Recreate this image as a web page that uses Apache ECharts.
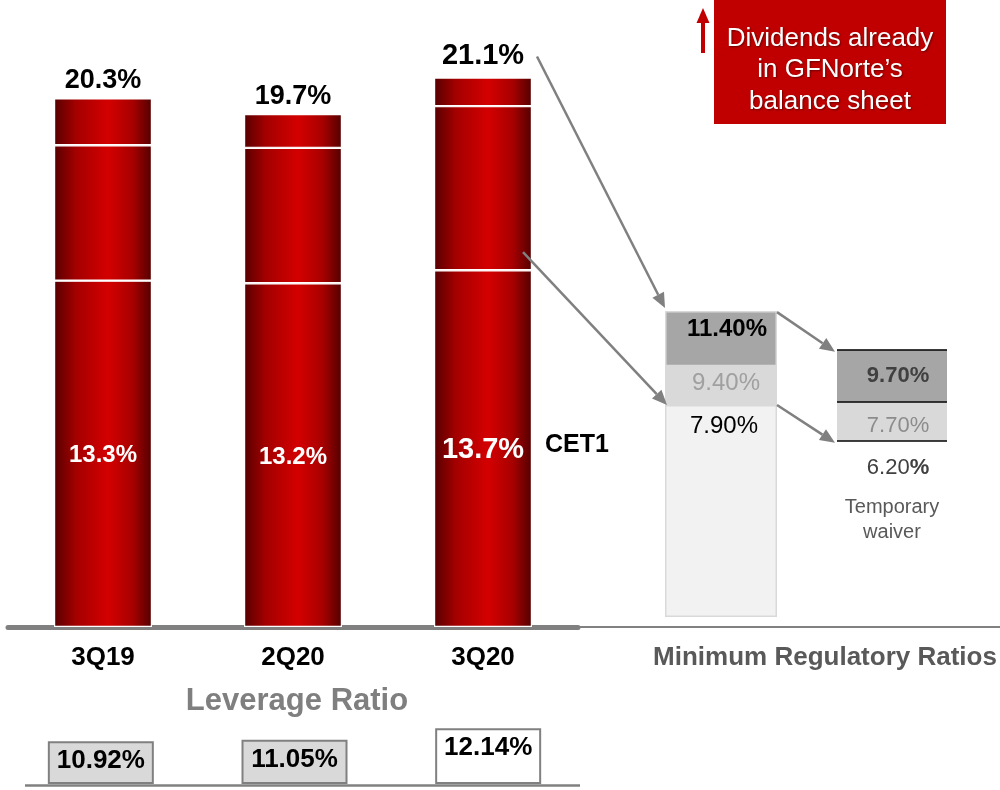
<!DOCTYPE html>
<html>
<head>
<meta charset="utf-8">
<script src="https://cdn.jsdelivr.net/npm/echarts@6/dist/echarts.min.js"></script>
<style>
  html, body { margin: 0; padding: 0; background: #ffffff; }
  #chart { width: 1000px; height: 790px; }
</style>
</head>
<body>
<div id="chart"></div>
<script>
// Capital ratios by quarter (%)
const quarters = ['3Q19', '2Q20', '3Q20'];
const cet1 = [13.3, 13.2, 13.7];
const additionalTier1 = [5.2, 5.2, 6.3];
const tier2 = [1.8, 1.3, 1.1];
const leverageRatio = [10.92, 11.05, 12.14];

// Minimum regulatory ratios (%): total capital, tier 1, CET1
const minRegulatory = [11.40, 9.40, 7.90];
const minWaiver = [9.70, 7.70, 6.20];

const totals = cet1.map((v, i) => Math.round((v + additionalTier1[i] + tier2[i]) * 10) / 10);

const FONT = "'Liberation Sans', Arial, sans-serif";
const GREY_LINE = '#808080';

const chart = echarts.init(document.getElementById('chart'), null, { renderer: 'canvas' });

// Cylinder-like shading for the capital bars
const redBody = new echarts.graphic.LinearGradient(0, 0, 1, 0, [
  { offset: 0, color: '#560000' },
  { offset: 0.22, color: '#a30000' },
  { offset: 0.55, color: '#d40000' },
  { offset: 0.8, color: '#a80000' },
  { offset: 1, color: '#520000' }
]);

const capitalStyle = { color: redBody, borderColor: '#ffffff', borderWidth: 1.2 };
const lastIdx = quarters.length - 1;

const option = {
  animation: false,
  backgroundColor: '#ffffff',
  textStyle: { fontFamily: FONT },
  grid: [
    { left: 8, width: 570, top: 2, bottom: 163 },          // capital bars
    { left: 665, width: 112, top: 295, bottom: 173 },      // minimum regulatory ratios
    { left: 837, width: 110, top: 342, bottom: 188 },      // temporary waiver
    { left: 4, width: 581, top: 708.4, bottom: 7 }         // leverage ratio
  ],
  xAxis: [
    {
      gridIndex: 0, type: 'category', data: quarters,
      axisLine: { lineStyle: { color: GREY_LINE, width: 5 } },
      axisTick: { show: false },
      axisLabel: { color: '#000000', fontSize: 26, fontWeight: 'bold', margin: 18, fontFamily: FONT }
    },
    { gridIndex: 1, type: 'category', data: ['min'], show: false },
    { gridIndex: 2, type: 'category', data: ['waiver'], show: false },
    { gridIndex: 3, type: 'category', data: quarters, show: false }
  ],
  yAxis: [
    { gridIndex: 0, type: 'value', min: 0, max: 24, show: false, splitLine: { show: false } },
    { gridIndex: 1, type: 'value', min: 0, max: 12, show: false, splitLine: { show: false } },
    { gridIndex: 2, type: 'value', min: 0, max: 10, show: false, splitLine: { show: false } },
    { gridIndex: 3, type: 'value', min: 7, max: 14, show: false, splitLine: { show: false } }
  ],
  series: [
    {
      name: 'CET1', type: 'bar', stack: 'capital', xAxisIndex: 0, yAxisIndex: 0,
      barWidth: 98, itemStyle: capitalStyle,
      label: {
        show: true, position: 'inside', offset: [0, 2], color: '#ffffff', fontWeight: 'bold', fontSize: 24,
        fontFamily: FONT, formatter: p => p.value.toFixed(1) + '%'
      },
      data: cet1.map((v, i) => i === lastIdx ? { value: v, label: { fontSize: 29, offset: [0, 1] } } : v)
    },
    {
      name: 'Additional Tier 1', type: 'bar', stack: 'capital', xAxisIndex: 0, yAxisIndex: 0,
      barWidth: 98, itemStyle: capitalStyle, data: additionalTier1
    },
    {
      name: 'Tier 2', type: 'bar', stack: 'capital', xAxisIndex: 0, yAxisIndex: 0,
      barWidth: 98, itemStyle: capitalStyle,
      label: {
        show: true, position: 'top', distance: 4, color: '#000000', fontWeight: 'bold', fontSize: 27,
        fontFamily: FONT, formatter: p => totals[p.dataIndex].toFixed(1) + '%'
      },
      data: tier2.map((v, i) => i === lastIdx ? { value: v, label: { fontSize: 29, distance: 7 } } : v)
    },

    // Minimum regulatory ratios: overlapping bars, tallest drawn first
    {
      name: 'Total capital min', type: 'bar', xAxisIndex: 1, yAxisIndex: 1, barWidth: '100%', barGap: '-100%',
      itemStyle: { color: '#a6a6a6', borderColor: '#d9d9d9', borderWidth: 1.5 },
      label: {
        show: true, position: 'insideTop', distance: 6, offset: [6, 0], color: '#000000',
        fontWeight: 'bold', fontSize: 24, fontFamily: FONT, formatter: p => p.value.toFixed(2) + '%'
      },
      data: [minRegulatory[0]]
    },
    {
      name: 'Tier 1 min', type: 'bar', xAxisIndex: 1, yAxisIndex: 1, barWidth: '100%', barGap: '-100%',
      itemStyle: { color: '#d9d9d9', borderColor: '#d9d9d9', borderWidth: 1.5 },
      label: {
        show: true, position: 'insideTop', distance: 7, offset: [5, 0], color: '#a0a0a0',
        fontSize: 24, fontFamily: FONT, formatter: p => p.value.toFixed(2) + '%'
      },
      data: [minRegulatory[1]]
    },
    {
      name: 'CET1 min', type: 'bar', xAxisIndex: 1, yAxisIndex: 1, barWidth: '100%', barGap: '-100%',
      itemStyle: { color: '#f2f2f2', borderColor: '#d9d9d9', borderWidth: 1.5 },
      label: {
        show: true, position: 'insideTop', distance: 9, offset: [3, 0], color: '#000000',
        fontSize: 24, fontFamily: FONT, formatter: p => p.value.toFixed(2) + '%'
      },
      data: [minRegulatory[2]]
    },

    // Temporary waiver
    {
      name: 'Total capital waiver', type: 'bar', xAxisIndex: 2, yAxisIndex: 2, barWidth: '100%', barGap: '-100%',
      itemStyle: { color: '#a6a6a6' },
      label: {
        show: true, position: 'insideTop', distance: 15, offset: [6, 0], color: '#404040',
        fontWeight: 'bold', fontSize: 22, fontFamily: FONT, formatter: p => p.value.toFixed(2) + '%'
      },
      data: [minWaiver[0]]
    },
    {
      name: 'Tier 1 waiver', type: 'bar', xAxisIndex: 2, yAxisIndex: 2, barWidth: '100%', barGap: '-100%',
      itemStyle: { color: '#d9d9d9' },
      label: {
        show: true, position: 'insideTop', distance: 13, offset: [6, 0], color: '#8c8c8c',
        fontSize: 22, fontFamily: FONT, formatter: p => p.value.toFixed(2) + '%'
      },
      data: [minWaiver[1]]
    },
    {
      name: 'CET1 waiver', type: 'bar', xAxisIndex: 2, yAxisIndex: 2, barWidth: '100%', barGap: '-100%',
      itemStyle: { color: '#ffffff' },
      label: {
        show: true, position: 'insideTop', distance: 16, offset: [6, 0],
        formatter: p => '{n|' + p.value.toFixed(2) + '}{p|%}',
        rich: {
          n: { color: '#404040', fontSize: 22, fontFamily: FONT },
          p: { color: '#404040', fontSize: 22, fontWeight: 'bold', fontFamily: FONT }
        }
      },
      markLine: {
        silent: true, symbol: 'none', label: { show: false },
        lineStyle: { color: '#000000', width: 1.5, type: 'solid' },
        data: minWaiver.map(v => ({ yAxis: v }))
      },
      data: [minWaiver[2]]
    },

    // Leverage ratio boxes
    {
      name: 'Leverage Ratio', type: 'bar', xAxisIndex: 3, yAxisIndex: 3, barWidth: 106,
      itemStyle: {
        color: p => (p.dataIndex === lastIdx ? '#ffffff' : '#d9d9d9'),
        borderColor: '#808080', borderWidth: 2
      },
      label: {
        show: true, position: 'insideTop', distance: 7, color: '#000000', fontWeight: 'bold',
        fontSize: 26, fontFamily: FONT, formatter: p => p.value.toFixed(2) + '%'
      },
      data: leverageRatio
    }
  ]
};

chart.setOption(option);

// Annotations placed from the axes' own coordinates
function arrow(x1, y1, x2, y2, color, width, headLen, headW) {
  const ang = Math.atan2(y2 - y1, x2 - x1);
  const bx = x2 - headLen * Math.cos(ang);
  const by = y2 - headLen * Math.sin(ang);
  const px = -Math.sin(ang) * headW / 2;
  const py = Math.cos(ang) * headW / 2;
  return [
    { type: 'line', silent: true, z: 100, shape: { x1: x1, y1: y1, x2: bx, y2: by }, style: { stroke: color, lineWidth: width } },
    { type: 'polygon', silent: true, z: 100, shape: { points: [[x2, y2], [bx + px, by + py], [bx - px, by - py]] }, style: { fill: color } }
  ];
}

const main = (i, v) => chart.convertToPixel({ xAxisIndex: 0, yAxisIndex: 0 }, [i, v]);
const reg = (v) => chart.convertToPixel({ xAxisIndex: 1, yAxisIndex: 1 }, [0, v]);
const wav = (v) => chart.convertToPixel({ xAxisIndex: 2, yAxisIndex: 2 }, [0, v]);
const lev = (i, v) => chart.convertToPixel({ xAxisIndex: 3, yAxisIndex: 3 }, [i, v]);

const baseY = main(0, 0)[1];
const topLast = main(lastIdx, totals[lastIdx]);
const cetLast = main(lastIdx, cet1[lastIdx]);
const cetMid = main(lastIdx, cet1[lastIdx] / 2);
const regTop = reg(minRegulatory[0]);
const regCet = reg(minRegulatory[2]);
const wavTop = wav(minWaiver[0]);
const wavCet = wav(minWaiver[2]);
const regHalfW = 56, wavHalfW = 55;
const levBase = lev(0, 7)[1];

const graphics = [
  // extension of the baseline under the regulatory panel
  { type: 'line', silent: true, z: 100, shape: { x1: 578, y1: baseY, x2: 1000, y2: baseY }, style: { stroke: GREY_LINE, lineWidth: 2 } },
  // baseline under the leverage ratio boxes
  { type: 'line', silent: true, z: 100, shape: { x1: 25, y1: levBase + 2.5, x2: 580, y2: levBase + 2.5 }, style: { stroke: GREY_LINE, lineWidth: 2.5 } },
  {
    type: 'text', silent: true, z: 100,
    style: { text: 'Minimum Regulatory Ratios', x: 825, y: baseY + 31, textAlign: 'center', textVerticalAlign: 'middle',
      fill: '#595959', fontSize: 26, fontWeight: 'bold', fontFamily: FONT }
  },
  {
    type: 'text', silent: true, z: 100,
    style: { text: 'Leverage Ratio', x: 297, y: 701, textAlign: 'center', textVerticalAlign: 'middle',
      fill: '#7f7f7f', fontSize: 31, fontWeight: 'bold', fontFamily: FONT }
  },
  {
    type: 'text', silent: true, z: 100,
    style: { text: 'CET1', x: cetMid[0] + 62, y: cetMid[1] - 4, textAlign: 'left', textVerticalAlign: 'middle',
      fill: '#000000', fontSize: 25, fontWeight: 'bold', fontFamily: FONT }
  },
  {
    type: 'text', silent: true, z: 100,
    style: { text: 'Temporary\nwaiver', x: wavCet[0], y: wavCet[1] + 79, textAlign: 'center', textVerticalAlign: 'middle',
      fill: '#595959', fontSize: 20, lineHeight: 25, fontFamily: FONT }
  },
  // dividends note
  { type: 'rect', silent: true, z: 100, shape: { x: 714, y: 0, width: 232, height: 124 }, style: { fill: '#c00000' } },
  {
    type: 'text', silent: true, z: 101,
    style: { text: 'Dividends already\nin GFNorte\u2019s\nbalance sheet', x: 830, y: 70, textAlign: 'center', textVerticalAlign: 'middle',
      fill: '#ffffff', fontSize: 26, lineHeight: 31.5, fontFamily: FONT,
      textShadowColor: 'rgba(0,0,0,0.45)', textShadowBlur: 2, textShadowOffsetX: 1, textShadowOffsetY: 1 }
  }
];

graphics.push(...arrow(703, 53, 703, 8, '#c00000', 4, 15, 13));
graphics.push(...arrow(topLast[0] + 54, topLast[1] - 21, regTop[0] - regHalfW, regTop[1] - 3, GREY_LINE, 2.5, 15, 13));
graphics.push(...arrow(cetLast[0] + 40, cetLast[1] - 18, regCet[0] - regHalfW + 2, regCet[1], GREY_LINE, 2.5, 15, 13));
graphics.push(...arrow(regTop[0] + regHalfW, regTop[1] + 1, wavTop[0] - wavHalfW - 2, wavTop[1] + 2, GREY_LINE, 2.5, 15, 13));
graphics.push(...arrow(regCet[0] + regHalfW, regCet[1], wavCet[0] - wavHalfW - 2, wavCet[1] + 2, GREY_LINE, 2.5, 15, 13));

chart.setOption({ graphic: graphics });
</script>
</body>
</html>
